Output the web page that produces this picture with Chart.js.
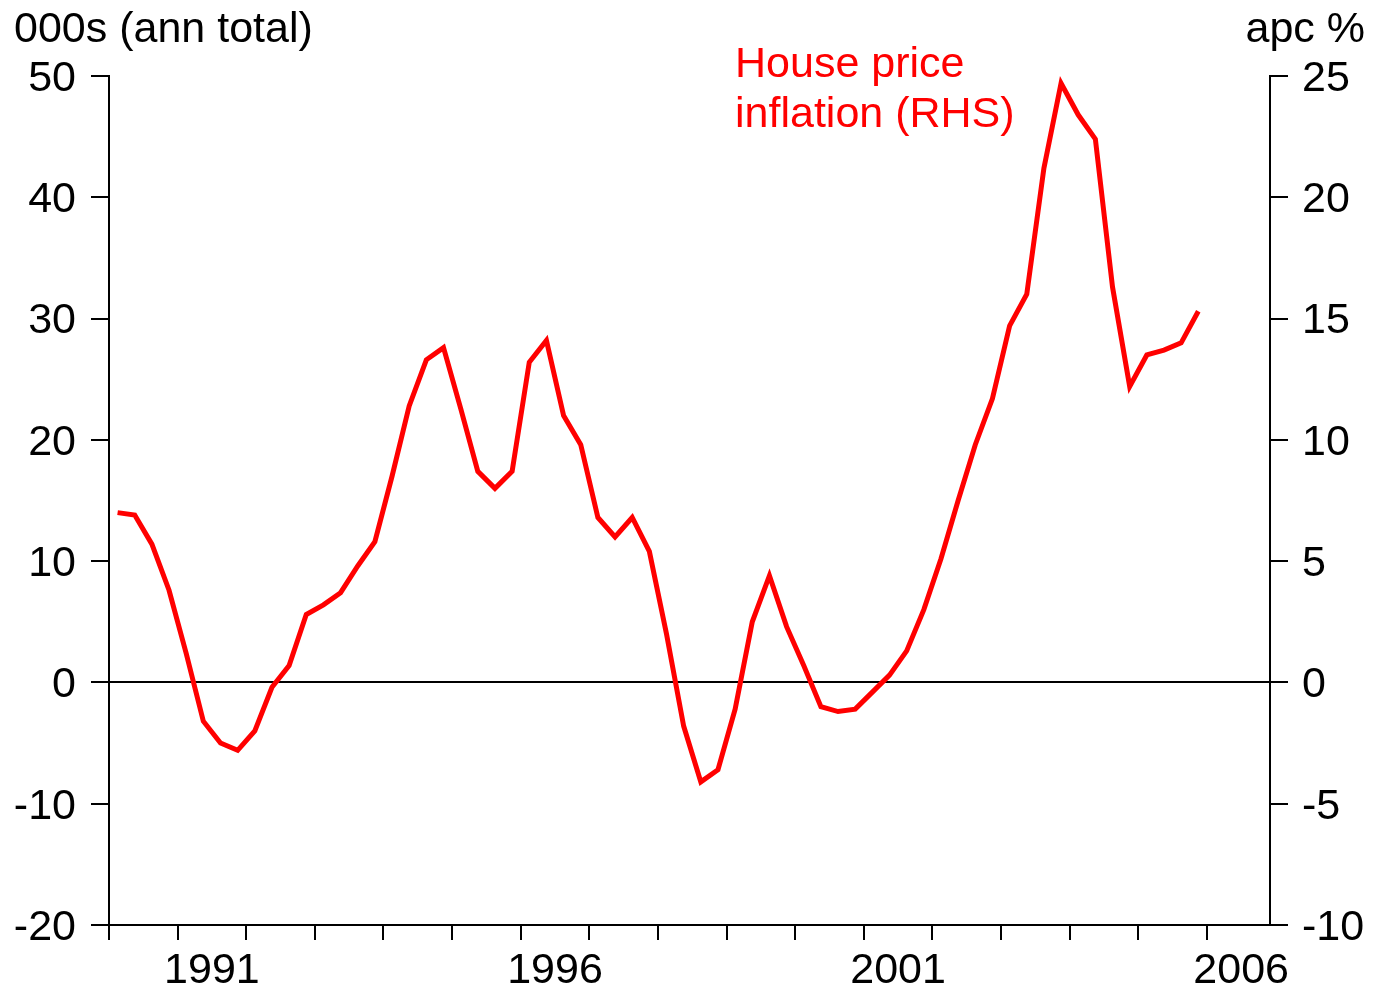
<!DOCTYPE html>
<html>
<head>
<meta charset="utf-8">
<title>House price inflation</title>
<script src="https://cdn.jsdelivr.net/npm/chart.js@4.4.1/dist/chart.umd.min.js"></script>
<style>
  body { margin: 0; background: #fff; }
  #wrap { width: 1373px; height: 992px; }
</style>
</head>
<body>
<div id="wrap"><canvas id="chart" width="1373" height="992"></canvas></div>
<script>
// quarterly series, first point is 1990 Q1
const startYear = 1990;
const houseInflation = [
    7.0, 6.9, 5.7, 3.8, 1.2, -1.6, -2.5, -2.8,
    -2.0, -0.2, 0.7, 2.8, 3.2, 3.7, 4.8, 5.8,
    8.5, 11.4, 13.3, 13.8, 11.3, 8.7, 8.0, 8.7,
    13.2, 14.1, 11.0, 9.8, 6.8, 6.0, 6.8, 5.4,
    2.0, -1.8, -4.1, -3.6, -1.1, 2.5, 4.4, 2.3,
    0.7, -1.0, -1.2, -1.1, -0.4, 0.3, 1.3, 3.0,
    5.1, 7.5, 9.8, 11.7, 14.7, 16.0, 21.2, 24.7,
    23.4, 22.4, 16.3, 12.2, 13.5, 13.7, 14.0, 15.3
];
const yearLabels = [1991, 1996, 2001, 2006];
const leftTitle = '000s (ann total)';
const rightTitle = 'apc %';
const seriesNote = ['House price', 'inflation (RHS)'];

const FONT = '"Liberation Sans", Arial, Helvetica, sans-serif';
Chart.defaults.font.family = FONT;
Chart.defaults.font.size = 43;
Chart.defaults.color = '#000';

// points sit in the middle of each quarter
const points = houseInflation.map((v, i) => ({ x: startYear + (i + 0.5) / 4, y: v }));

const textPlugin = {
    id: 'texts',
    afterDraw(chart) {
        const ctx = chart.ctx;
        ctx.save();
        ctx.font = '43px ' + FONT;
        ctx.textBaseline = 'alphabetic';
        ctx.fillStyle = '#000';
        ctx.textAlign = 'left';
        ctx.fillText(leftTitle, 14, 42);
        ctx.textAlign = 'right';
        ctx.fillText(rightTitle, 1365, 42);
        ctx.fillStyle = '#ff0000';
        ctx.textAlign = 'left';
        ctx.fillText(seriesNote[0], 735, 77);
        ctx.fillText(seriesNote[1], 735, 127);
        ctx.restore();
    }
};

new Chart(document.getElementById('chart'), {
    type: 'line',
    data: {
        datasets: [{
            label: 'House price inflation (RHS)',
            data: points,
            yAxisID: 'y1',
            borderColor: '#ff0000',
            borderWidth: 5,
            borderJoinStyle: 'miter',
            pointRadius: 0,
            tension: 0,
            fill: false
        }]
    },
    options: {
        responsive: false,
        animation: false,
        layout: { padding: { top: 76, left: 0, right: 0, bottom: 0 } },
        plugins: {
            legend: { display: false },
            tooltip: { enabled: false }
        },
        scales: {
            x: {
                type: 'linear',
                min: 1990,
                max: 2006.92,
                afterBuildTicks(scale) {
                    const t = [];
                    for (let yr = 1990; yr <= 2006; yr++) t.push({ value: yr });
                    yearLabels.forEach(yr => t.push({ value: yr + 0.5 }));
                    t.sort((a, b) => a.value - b.value);
                    scale.ticks = t;
                },
                afterFit(scale) { scale.height = 67; },
                ticks: {
                    autoSkip: false,
                    maxRotation: 0,
                    padding: 5,
                    callback: (v) => (v % 1 !== 0 ? String(v - 0.5) : '')
                },
                grid: {
                    drawOnChartArea: false,
                    tickLength: 15,
                    lineWidth: 2,
                    tickColor: (c) => (c.tick && c.tick.value % 1 !== 0 ? 'rgba(0,0,0,0)' : '#000')
                },
                border: { display: true, color: '#000', width: 2 }
            },
            y: {
                position: 'left',
                min: -20,
                max: 50,
                afterFit(scale) { scale.width = 109; },
                ticks: { stepSize: 10, padding: 15, labelOffset: 3 },
                grid: {
                    drawOnChartArea: true,
                    tickLength: 18,
                    lineWidth: 2,
                    color: (c) => (c.tick && c.tick.value === 0 ? '#000' : 'rgba(0,0,0,0)'),
                    tickColor: '#000'
                },
                border: { display: true, color: '#000', width: 2 }
            },
            y1: {
                position: 'right',
                min: -10,
                max: 25,
                afterFit(scale) { scale.width = 103; },
                ticks: { stepSize: 5, padding: 14, labelOffset: 3 },
                grid: {
                    drawOnChartArea: false,
                    tickLength: 18,
                    lineWidth: 2,
                    tickColor: '#000'
                },
                border: { display: true, color: '#000', width: 2 }
            }
        }
    },
    plugins: [textPlugin]
});
</script>
</body>
</html>
